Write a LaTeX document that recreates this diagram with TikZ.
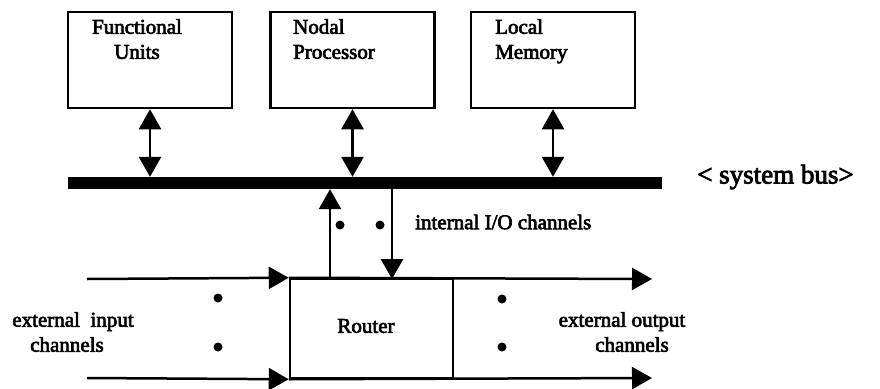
\documentclass[tikz,border=0pt]{standalone}
\usepackage{fontspec}
\setmainfont{Liberation Serif}[BoldFont={Liberation Serif}, BoldFeatures={FakeBold=3}]
\usetikzlibrary{arrows.meta}

\tikzset{
  unitbox/.style={draw, line width=2.5pt, minimum width=164pt, minimum height=96pt, inner sep=0pt},
  routerbox/.style={draw, line width=2.5pt, minimum width=163pt, minimum height=99pt, inner sep=0pt},
  lbl/.style={font=\fontsize{21}{25}\selectfont\bfseries, inner sep=0pt, align=left},
  conn/.style={line width=2.5pt, -{Triangle[length=20pt,width=22pt]}},
  dblconn/.style={line width=2.5pt, {Triangle[length=20pt,width=22pt]}-{Triangle[length=20pt,width=22pt]}},
  dotmark/.style={circle, fill, inner sep=0pt, minimum size=9pt}
}

\begin{document}
\begin{tikzpicture}[x=1pt, y=-1pt]
  \useasboundingbox (0,0) rectangle (880,388);

  % processing units attached to the bus
  \node[unitbox] (fu) at (150,60) {};
  \node[unitbox] (np) at (352.5,60) {};
  \node[unitbox] (lm) at (553,60) {};
  \node[lbl, align=center, anchor=north] (fut) at (137,19) {Functional\\Units};
  \node[lbl, anchor=north west] (npt) at (293,19) {Nodal\\Processor};
  \node[lbl, anchor=north west] (lmt) at (495,19) {Local\\Memory};

  % system bus
  \node[fill, minimum width=594pt, minimum height=12pt, inner sep=0pt] (bus) at (365,183) {};
  \node[font=\fontsize{27}{30}\selectfont\bfseries, anchor=west, inner sep=0pt] (bust) at (697,177) {< system bus>};

  \draw[dblconn] (fu.south) -- (fu.south |- bus.north);
  \draw[dblconn] (np.south) -- (np.south |- bus.north);
  \draw[dblconn] (lm.south) -- (lm.south |- bus.north);

  % router and its channels
  \node[routerbox] (router) at (371.5,328.5) {};
  \node[lbl] (routert) at (366,326) {Router};

  \coordinate (upin) at (330,279);
  \coordinate (downout) at (392,279);
  \draw[conn] (upin) -- (upin |- bus.south);
  \draw[conn] (downout |- bus.south) -- (downout);
  \node[dotmark] (d1) at (340,225) {};
  \node[dotmark] (d2) at (380,225) {};
  \node[lbl, anchor=west] (iot) at (415,222) {internal I/O channels};

  \coordinate (intop) at (87,279);
  \coordinate (inbot) at (87,378);
  \coordinate (outtop) at (652,279);
  \coordinate (outbot) at (652,378);
  \draw[conn] (intop) -- (router.north west);
  \draw[conn] (inbot) -- (router.south west);
  \draw[conn] (router.north west) -- (outtop);
  \draw[conn] (router.south west) -- (outbot);

  \node[dotmark] (l1) at (218,298) {};
  \node[dotmark] (l2) at (218,347) {};
  \node[dotmark] (r1) at (502,299) {};
  \node[dotmark] (r2) at (502,347) {};

  \node[lbl, align=center] (int) at (73,332) {external\ \ input\\channels\hspace*{12pt}};
  \node[lbl, align=center] (outt) at (622,332) {external output\\\hspace*{20pt}channels};
\end{tikzpicture}
\end{document}
